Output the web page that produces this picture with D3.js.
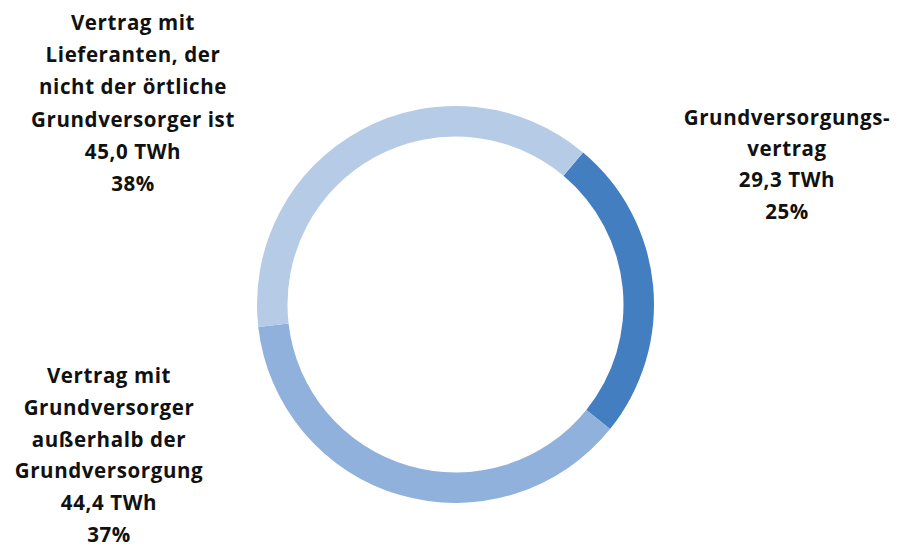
<!DOCTYPE html>
<html>
<head>
<meta charset="utf-8">
<script src="https://cdn.jsdelivr.net/npm/d3@7"></script>
<style>
  html, body { margin: 0; padding: 0; background: #fff; }
  svg text { font-family: "Open Sans", "DejaVu Sans", sans-serif; font-weight: 700; fill: #111; }
</style>
</head>
<body>
<div id="chart"></div>
<script>
// ── Data ─────────────────────────────────────────────────────────────────
const categories = [
  "Grundversorgungsvertrag",
  "Vertrag mit Grundversorger außerhalb der Grundversorgung",
  "Vertrag mit Lieferanten, der nicht der örtliche Grundversorger ist",
];
const twh = [29.3, 44.4, 45.0];
const shares = ["25%", "37%", "38%"];
const labelLines = [
  ["Grundversorgungs-", "vertrag"],
  ["Vertrag mit", "Grundversorger", "außerhalb der", "Grundversorgung"],
  ["Vertrag mit", "Lieferanten, der", "nicht der örtliche", "Grundversorger ist"],
];
const colors = ["#427ec0", "#8fb1db", "#b6cbe6"];

// ── Layout ───────────────────────────────────────────────────────────────
const W = 899, H = 547;
const cx = 455.5, cy = 304.5;
const outerR = 198.5, innerR = 168;
const startDeg = 40;
// label block: centre x, first baseline y, line step
const labelPos = [
  { x: 787, y: 125, step: 31.2 },
  { x: 109, y: 383, step: 31.8 },
  { x: 133, y: 30, step: 32.2 },
];

const svg = d3.select("#chart").append("svg")
  .attr("width", W).attr("height", H);

const rows = categories.map((c, i) => ({ cat: c, value: twh[i], i }));

const pie = d3.pie()
  .sort(null)
  .value((d) => d.value)
  .startAngle((startDeg * Math.PI) / 180)
  .endAngle((startDeg * Math.PI) / 180 + 2 * Math.PI);

const arc = d3.arc().innerRadius(innerR).outerRadius(outerR);

const g = svg.append("g").attr("transform", `translate(${cx},${cy})`);

g.selectAll("path")
  .data(pie(rows))
  .join("path")
  .attr("d", arc)
  .attr("fill", (d) => colors[d.data.i]);

// ── Labels ───────────────────────────────────────────────────────────────
rows.forEach((d, i) => {
  const lines = [...labelLines[i], `${d3.format(".1f")(d.value).replace(".", ",")} TWh`, shares[i]];
  const p = labelPos[i];
  const t = svg.append("text")
    .attr("text-anchor", "middle")
    .style("font-size", "20.5px")
    .style("letter-spacing", "0.6px");
  lines.forEach((ln, k) => {
    t.append("tspan").attr("x", p.x).attr("y", p.y + k * p.step).text(ln);
  });
});
</script>
</body>
</html>
